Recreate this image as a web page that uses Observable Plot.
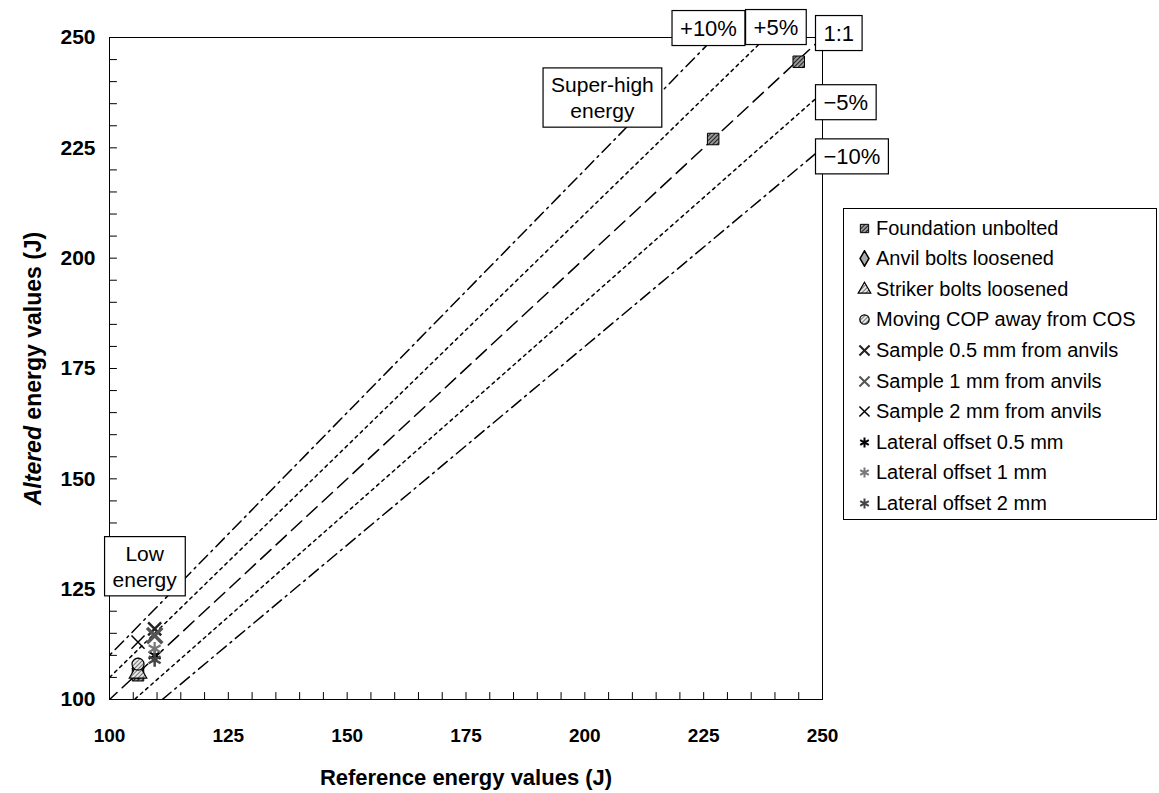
<!DOCTYPE html>
<html><head><meta charset="utf-8">
<script src="https://cdn.jsdelivr.net/npm/d3@7"></script>
<script src="https://cdn.jsdelivr.net/npm/@observablehq/plot@0.6"></script>
<style>
body{margin:0;background:#fff;font-family:"Liberation Sans",Arial,sans-serif;}
#wrap{position:relative;width:1159px;height:793px;overflow:hidden;}
#legend{position:absolute;left:843px;top:208px;width:314px;height:312px;border:1px solid #000;box-sizing:border-box;background:#fff;}
.row{position:absolute;left:12px;height:30px;display:flex;align-items:center;font-size:20px;color:#000;white-space:nowrap;}
.row svg{margin-right:3px;}
</style></head><body><div id="wrap"></div>
<script>
// ---- data ----
const seriesNames = ["Foundation unbolted","Anvil bolts loosened","Striker bolts loosened","Moving COP away from COS","Sample 0.5 mm from anvils","Sample 1 mm from anvils","Sample 2 mm from anvils","Lateral offset 0.5 mm","Lateral offset 1 mm","Lateral offset 2 mm"];
const seriesSymbols = ["square","diamond","triangle","circle","times","times","times","asterisk","asterisk","asterisk"];
const pointSeries    = ["Foundation unbolted","Foundation unbolted","Foundation unbolted","Anvil bolts loosened","Striker bolts loosened","Moving COP away from COS","Sample 0.5 mm from anvils","Sample 1 mm from anvils","Sample 2 mm from anvils","Lateral offset 0.5 mm","Lateral offset 1 mm","Lateral offset 2 mm"];
const pointReference = [106, 227, 245, 106, 106, 106, 109.5, 109.5, 106, 109.5, 109.5, 109.5];
const pointAltered   = [105.5, 227, 244.5, 107, 106, 108, 116, 114.5, 113, 110, 111.5, 109];
const lineLabels = ["+10%","+5%","1:1","\u22125%","\u221210%"];
const lineRatios = [1.10, 1.05, 1.00, 0.95, 0.90];
const annotationText = ["Super-high\nenergy","Low\nenergy"];
const annotationX = [203.7, 107.4];
const annotationY = [236.6, 130.4];
const xTicks = [100,125,150,175,200,225,250];
const yTicks = [100,125,150,175,200,225,250];
const minorTicks = d3.range(100, 251, 5);
const xTitle = "Reference energy values (J)";
const yTitle = "Altered energy values (J)";

// ---- styles ----
const font = "'Liberation Sans', Arial, sans-serif";
const lineDash = ["12,5,2,5","3,4","14,7","3,4","12,5,2,5"];
const labelOffsets = [{dx:-6,dy:-9,a:"middle"},{dx:10,dy:-10,a:"middle"},{dx:1,dy:-4,a:"start"},{dx:1,dy:10,a:"start"},{dx:1,dy:9,a:"start"}];
const seriesStyle = {
  "Foundation unbolted": {fill:"url(#hatchDark)", stroke:"#000", strokeWidth:1, r:6.5},
  "Anvil bolts loosened": {fill:"#aaa", stroke:"#000", strokeWidth:1.5, r:6},
  "Striker bolts loosened": {fill:"url(#hatch)", stroke:"#000", strokeWidth:1.2, r:6.5},
  "Moving COP away from COS": {fill:"url(#hatch)", stroke:"#000", strokeWidth:1.2, r:6},
  "Sample 0.5 mm from anvils": {fill:"none", stroke:"#222", strokeWidth:2.5, r:6},
  "Sample 1 mm from anvils": {fill:"none", stroke:"#555", strokeWidth:3.5, r:7},
  "Sample 2 mm from anvils": {fill:"none", stroke:"#000", strokeWidth:1.5, r:6},
  "Lateral offset 0.5 mm": {fill:"none", stroke:"#000", strokeWidth:2, r:6.5},
  "Lateral offset 1 mm": {fill:"none", stroke:"#777", strokeWidth:2.2, r:6.5},
  "Lateral offset 2 mm": {fill:"none", stroke:"#444", strokeWidth:2.5, r:6.5}
};
const tickShapeUp = {draw(ctx, l){ ctx.moveTo(0,0); ctx.lineTo(0,-l); }};

const points = pointSeries.map((s,i)=>({series:s, x:pointReference[i], y:pointAltered[i]}));
const lineMarks = lineRatios.map((r,i)=>Plot.line([80,260].map(x=>({x, y:x*r})), {x:"x", y:"y", stroke:"#000", strokeWidth:1.5, strokeDasharray:lineDash[i], clip:true}));
const dotMarks = seriesNames.map((s,i)=>Plot.dot(points.filter(p=>p.series===s), {x:"x", y:"y", symbol:()=>seriesSymbols[i], ...seriesStyle[s]}));
const labelMarks = lineRatios.map((r,i)=>Plot.text([i], {
  x: ()=>Math.min(250, 250/r), y: ()=>Math.min(250, 250*r), text: ()=>lineLabels[i],
  dx: labelOffsets[i].dx, dy: labelOffsets[i].dy, textAnchor: labelOffsets[i].a,
  fontSize: 22, fill:"#000", className:"boxed"}));
const annoMark = Plot.text(annotationText.map((t,i)=>i), {x:i=>annotationX[i], y:i=>annotationY[i], text:i=>annotationText[i], fontSize:21, lineHeight:1.25, fill:"#000", className:"boxed"});

const svg = Plot.plot({
  width:1159, height:793,
  marginLeft:109, marginRight:337, marginTop:37, marginBottom:94,
  style:{fontFamily:font, color:"#000", background:"#fff", overflow:"visible"},
  x:{domain:[100,250], axis:null}, y:{domain:[100,250], axis:null},
  symbol:{type:"identity"},
  marks:[
    Plot.text(xTicks, {x:d=>d, text:d=>String(d), frameAnchor:"bottom", lineAnchor:"middle", textAnchor:"middle", dy:36, fontSize:19, fontWeight:"bold", fill:"#000"}),
    Plot.text(yTicks, {y:d=>d, text:d=>String(d), frameAnchor:"left", lineAnchor:"middle", textAnchor:"end", dx:-14, fontSize:21, fontWeight:"bold", fill:"#000"}),
    Plot.vector(minorTicks, {x:d=>d, frameAnchor:"bottom", length:7, rotate:0, anchor:"start", shape:tickShapeUp, stroke:"#000", strokeWidth:1}),
    Plot.vector(minorTicks, {y:d=>d, frameAnchor:"left", length:7, rotate:90, anchor:"start", shape:tickShapeUp, stroke:"#000", strokeWidth:1}),
    ...lineMarks,
    Plot.frame({stroke:"#000"}),
    ...labelMarks,
    annoMark,
    ...dotMarks,
    Plot.text([xTitle], {text:d=>d, frameAnchor:"bottom", lineAnchor:"middle", textAnchor:"middle", dy:78, fontSize:22, fontWeight:"bold", fill:"#000"}),
    Plot.text([yTitle], {text:d=>d, frameAnchor:"left", textAnchor:"middle", lineAnchor:"middle", dx:-76, rotate:-90, fontSize:23, fontWeight:"bold", fill:"#000", className:"ytitle"})
  ]
});
document.getElementById("wrap").appendChild(svg);

// patterns
const defs = d3.select(svg).insert("defs", ":first-child");
function pat(id, bg, fg, sw){
  const p = defs.append("pattern").attr("id",id).attr("width",3).attr("height",3).attr("patternUnits","userSpaceOnUse").attr("patternTransform","rotate(45)");
  p.append("rect").attr("width",3).attr("height",3).attr("fill",bg);
  p.append("line").attr("x1",0).attr("y1",0).attr("x2",0).attr("y2",3).attr("stroke",fg).attr("stroke-width",sw);
}
pat("hatch","#e8e8e8","#222",1.2);
pat("hatchDark","#999","#000",1.6);

// boxes behind labels
d3.select(svg).selectAll("g.boxed text").each(function(){
  const b = this.getBBox();
  const padX = 8, padY = 5;
  const r = document.createElementNS("http://www.w3.org/2000/svg","rect");
  r.setAttribute("x", b.x-padX); r.setAttribute("y", b.y-padY);
  r.setAttribute("width", b.width+2*padX); r.setAttribute("height", b.height+2*padY);
  r.setAttribute("fill","#fff"); r.setAttribute("stroke","#000"); r.setAttribute("stroke-width","1.2");
  const t = this.getAttribute("transform"); if (t) r.setAttribute("transform", t);
  this.parentNode.insertBefore(r, this);
});
// italic "Altered"
d3.select(svg).selectAll("g.ytitle text").each(function(){
  this.textContent = "";
  d3.select(this).append("tspan").attr("font-style","italic").text("Altered");
  d3.select(this).append("tspan").text(" energy values (J)");
});

// legend
const symMap = {square:d3.symbolSquare, diamond:d3.symbolDiamond, triangle:d3.symbolTriangle, circle:d3.symbolCircle, times:d3.symbolTimes, asterisk:d3.symbolAsterisk};
const legend = d3.select("#wrap").append("div").attr("id","legend");
seriesNames.forEach((s,i)=>{
  const row = legend.append("div").attr("class","row").style("top",(4+i*30.6)+"px");
  const st = seriesStyle[s];
  const sv = row.append("svg").attr("width",17).attr("height",17);
  sv.append("path").attr("transform","translate(8.5,8.5)")
    .attr("d", d3.symbol(symMap[seriesSymbols[i]], Math.PI*22)())
    .attr("fill", st.fill).attr("stroke", st.stroke).attr("stroke-width", Math.min(st.strokeWidth,2));
  row.append("span").text(s);
});
</script></body></html>
